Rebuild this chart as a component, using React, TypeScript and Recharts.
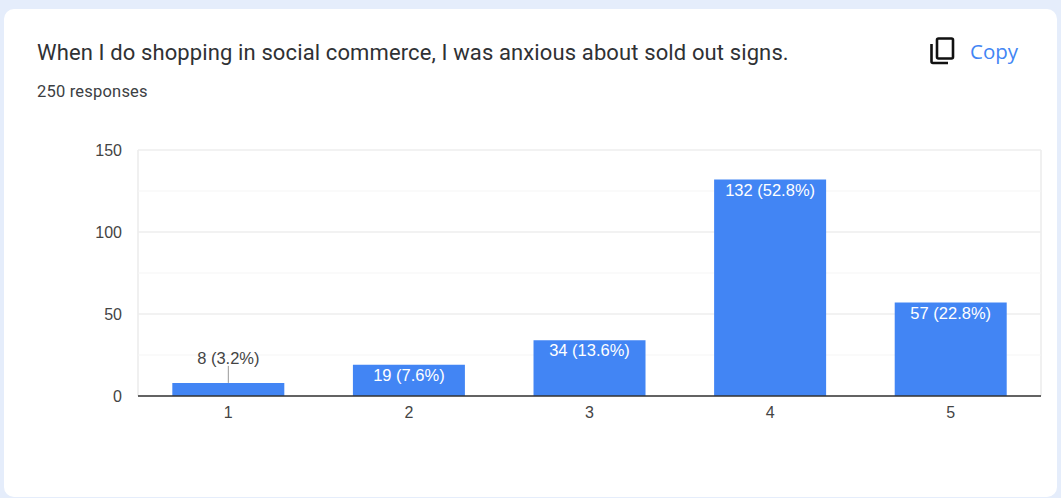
import React from 'react';
import { BarChart, Bar, XAxis, YAxis, CartesianGrid, LabelList } from 'recharts';

const categories = ['1', '2', '3', '4', '5'];
const counts = [8, 19, 34, 132, 57];
const percents = ['3.2', '7.6', '13.6', '52.8', '22.8'];
const majorTicks = [0, 50, 100, 150];
const minorTicks = [25, 75, 125];

const chartData = categories.map((name, i) => ({ name, count: counts[i], percent: percents[i] }));

const labelFont = '"Liberation Sans", Arial, sans-serif';

// short bars get their label above, joined by a small leader line
const BarLabel = (props: any) => {
  const { x, y, width, index } = props;
  const text = `${counts[index]} (${percents[index]}%)`;
  const cx = x + width / 2;
  if (counts[index] < 10) {
    return (
      <g>
        <line x1={cx} x2={cx} y1={y} y2={y - 17} stroke="#999999" strokeWidth={1} />
        <text x={cx} y={y - 19} textAnchor="middle" fontFamily={labelFont} fontSize={16.5} fill="#444444">
          {text}
        </text>
      </g>
    );
  }
  return (
    <text x={cx} y={y + 16} textAnchor="middle" fontFamily={labelFont} fontSize={16.5} fill="#ffffff">
      {text}
    </text>
  );
};

const CopyIcon = () => (
  <svg width={28} height={30} style={{ position: 'absolute', left: 928, top: 36 }}>
    <rect x={9} y={2.5} width={16} height={20} rx={1.5} fill="none" stroke="#111111" strokeWidth={2.6} />
    <path d="M3.5 8 V25.5 a1.5 1.5 0 0 0 1.5 1.5 H20" fill="none" stroke="#111111" strokeWidth={2.6} />
  </svg>
);

export default function App() {
  return (
    <div style={{ position: 'absolute', left: 0, top: 0, width: 1061, height: 498, background: '#e5edfb', overflow: 'hidden' }}>
      <div style={{ position: 'absolute', left: 4, top: 9, width: 1053, height: 488, background: '#ffffff', borderRadius: 10 }} />
      <div style={{ position: 'absolute', left: 37, top: 39, fontFamily: 'Roboto, sans-serif', fontSize: 22, lineHeight: '28px', letterSpacing: 0.12, color: '#2f3134', whiteSpace: 'nowrap' }}>
        When I do shopping in social commerce, I was anxious about sold out signs.
      </div>
      <div style={{ position: 'absolute', left: 37, top: 82, fontFamily: 'Roboto, sans-serif', fontSize: 16.5, lineHeight: '20px', letterSpacing: 0.2, color: '#3c4043', whiteSpace: 'nowrap' }}>
        250 responses
      </div>
      <CopyIcon />
      <div style={{ position: 'absolute', left: 970, top: 38, fontFamily: '"Open Sans", sans-serif', fontSize: 20.5, lineHeight: '27px', color: '#4285f4', whiteSpace: 'nowrap' }}>
        Copy
      </div>
      <div style={{ position: 'absolute', left: 0, top: 0 }}>
        <BarChart width={1061} height={498} data={chartData} margin={{ top: 150, right: 20, bottom: 0, left: 0 }} barCategoryGap="19%">
          <CartesianGrid horizontal={false} verticalCoordinatesGenerator={({ offset }: any) => [offset.left, offset.left + offset.width]} stroke="#f0f0f0" strokeWidth={2} />
          <CartesianGrid vertical={false} horizontalValues={minorTicks} stroke="#f5f5f5" />
          <CartesianGrid vertical={false} horizontalValues={majorTicks} stroke="#eeeeee" strokeWidth={1.5} />
          <XAxis
            dataKey="name"
            height={102}
            axisLine={{ stroke: '#333333', strokeWidth: 1.5 }}
            tickLine={false}
            tickMargin={5}
            tick={{ fontFamily: labelFont, fontSize: 16, fill: '#444444' }}
          />
          <YAxis
            width={138}
            domain={[0, 150]}
            ticks={majorTicks}
            axisLine={false}
            tickLine={false}
            tickMargin={10}
            tick={{ fontFamily: labelFont, fontSize: 16, fill: '#444444' }}
          />
          <Bar dataKey="count" fill="#4285f4" isAnimationActive={false}>
            <LabelList dataKey="count" content={<BarLabel />} />
          </Bar>
        </BarChart>
      </div>
    </div>
  );
}
